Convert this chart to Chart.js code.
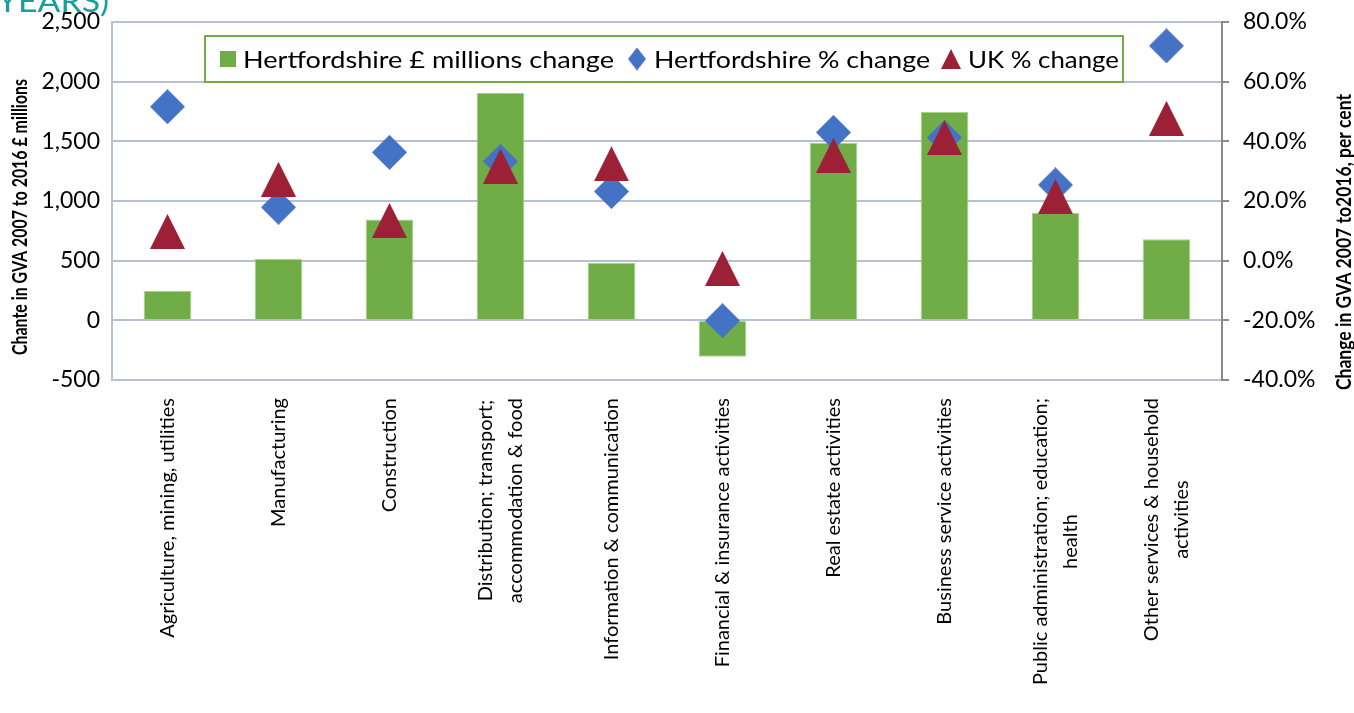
<!DOCTYPE html>
<html lang="en">
<head>
    <meta charset="UTF-8">
    <title>Change in GVA 2007 to 2016</title>
    <script src="https://cdn.jsdelivr.net/npm/chart.js"></script>
    <style>
        body { margin: 0; background: #fff; }
        #gvaChart { display: block; }
    </style>
</head>
<body>

<canvas id="gvaChart" width="1354" height="713"></canvas>

<script>
    // data
    const categories = [
        ['Agriculture, mining, utilities'],
        ['Manufacturing'],
        ['Construction'],
        ['Distribution; transport;', 'accommodation & food'],
        ['Information & communication'],
        ['Financial & insurance activities'],
        ['Real estate activities'],
        ['Business service activities'],
        ['Public administration; education;', 'health'],
        ['Other services & household', 'activities']
    ];
    const hertsMillions = [245, 515, 845, 1905, 480, -305, 1485, 1745, 900, 680];
    const hertsPct = [51.6, 17.9, 36.3, 33.3, 23.2, -20.1, 43.0, 41.3, 25.4, 72.0];
    const ukPct = [9.8, 27.3, 13.5, 31.7, 32.5, -2.6, 35.3, 41.3, 21.5, 47.7];
    const leftTicks = [-500, 0, 500, 1000, 1500, 2000, 2500];
    const rightTicks = [-40, -20, 0, 20, 40, 60, 80];

    const GREEN = '#70ad47';
    const BLUE = '#4472c4';
    const RED = '#9c2136';
    const GRID = '#b6c0d0';
    const FONT = 'Lato, "Open Sans", sans-serif';

    function makeMarker(shape, color, w, h) {
        const c = document.createElement('canvas');
        c.width = w;
        c.height = h;
        const ctx = c.getContext('2d');
        ctx.fillStyle = color;
        ctx.beginPath();
        if (shape === 'diamond') {
            ctx.moveTo(w / 2, 0);
            ctx.lineTo(w, h / 2);
            ctx.lineTo(w / 2, h);
            ctx.lineTo(0, h / 2);
        } else if (shape === 'triangle') {
            ctx.moveTo(w / 2, 0);
            ctx.lineTo(w, h);
            ctx.lineTo(0, h);
        } else {
            ctx.rect(0, 0, w, h);
        }
        ctx.closePath();
        ctx.fill();
        return c;
    }

    // draw text stretched or squeezed to an exact width, left aligned at x
    function fitText(ctx, text, x, y, width) {
        const k = width / ctx.measureText(text).width;
        ctx.save();
        ctx.translate(x, y);
        ctx.scale(k, 1);
        ctx.fillText(text, 0, 0);
        ctx.restore();
    }

    // keep tick label padding from pushing the plot area down
    function fixAxis(width) {
        return scale => {
            scale.width = width;
            scale.paddingTop = 0;
            scale.paddingBottom = 0;
        };
    }

    const extras = {
        id: 'extras',
        afterDatasetsDraw(chart) {
            const ctx = chart.ctx;
            const xs = chart.scales.x;

            // cut-off heading above the chart
            ctx.save();
            ctx.fillStyle = '#17a09a';
            ctx.font = '31px ' + FONT;
            ctx.textBaseline = 'alphabetic';
            ctx.textAlign = 'left';
            fitText(ctx, 'YEARS)', -3, 12, 112);
            ctx.restore();

            // category labels, rotated, lines centred on each other
            ctx.save();
            ctx.fillStyle = '#000';
            ctx.font = '20px ' + FONT;
            ctx.textAlign = 'center';
            ctx.textBaseline = 'middle';
            categories.forEach((lines, i) => {
                const cx = xs.getPixelForValue(i);
                const maxW = Math.max(...lines.map(l => ctx.measureText(l).width));
                const cy = chart.chartArea.bottom + 18 + maxW / 2;
                lines.forEach((line, j) => {
                    const dx = (j - (lines.length - 1) / 2) * 30;
                    ctx.save();
                    ctx.translate(cx + dx, cy);
                    ctx.rotate(-Math.PI / 2);
                    ctx.fillText(line, 0, 0);
                    ctx.restore();
                });
            });
            ctx.restore();

            // axis titles
            ctx.save();
            ctx.fillStyle = '#000';
            ctx.font = 'bold 20px ' + FONT;
            ctx.textBaseline = 'middle';
            ctx.textAlign = 'left';
            ctx.translate(21, 217);
            ctx.rotate(-Math.PI / 2);
            fitText(ctx, 'Chante in GVA 2007 to 2016 £ millions', -138, 0, 276);
            ctx.restore();

            ctx.save();
            ctx.fillStyle = '#000';
            ctx.font = 'bold 20px ' + FONT;
            ctx.textBaseline = 'middle';
            ctx.textAlign = 'left';
            ctx.translate(1345, 242);
            ctx.rotate(-Math.PI / 2);
            fitText(ctx, 'Change in GVA 2007 to2016, per cent', -148, 0, 296);
            ctx.restore();

            // legend box inside the plot
            ctx.save();
            ctx.font = '24px ' + FONT;
            ctx.textBaseline = 'middle';
            ctx.textAlign = 'left';
            const marks = [
                makeMarker('square', GREEN, 16, 16),
                makeMarker('diamond', BLUE, 18, 23),
                makeMarker('triangle', RED, 20, 20)
            ];
            const markX = [220, 628, 941];
            const textX = [243, 654, 968];
            const textW = [371, 276, 151];
            const left = 205, top = 36, right = 1123, bottom = 82, mid = 59;
            ctx.fillStyle = '#fff';
            ctx.fillRect(left, top, right - left, bottom - top);
            ctx.strokeStyle = GREEN;
            ctx.lineWidth = 2;
            ctx.strokeRect(left, top, right - left, bottom - top);
            ctx.fillStyle = '#000';
            chart.data.datasets.forEach((ds, i) => {
                ctx.drawImage(marks[i], markX[i], mid - marks[i].height / 2);
                fitText(ctx, ds.label, textX[i], mid + 1, textW[i]);
            });
            ctx.restore();
        }
    };

    const diamond = makeMarker('diamond', BLUE, 35, 35);
    const triangle = makeMarker('triangle', RED, 35, 35);

    new Chart(document.getElementById('gvaChart'), {
        type: 'bar',
        data: {
            labels: categories,
            datasets: [
                {
                    label: 'Hertfordshire £ millions change',
                    data: hertsMillions,
                    backgroundColor: GREEN,
                    borderColor: '#a9d18e',
                    borderWidth: 1,
                    categoryPercentage: 1,
                    barPercentage: 0.43,
                    yAxisID: 'y',
                    order: 3
                },
                {
                    type: 'line',
                    label: 'Hertfordshire % change',
                    data: hertsPct,
                    showLine: false,
                    pointStyle: diamond,
                    pointRadius: 17,
                    backgroundColor: BLUE,
                    borderColor: BLUE,
                    yAxisID: 'y1',
                    order: 2
                },
                {
                    type: 'line',
                    label: 'UK % change',
                    data: ukPct,
                    showLine: false,
                    pointStyle: triangle,
                    pointRadius: 17,
                    backgroundColor: RED,
                    borderColor: RED,
                    yAxisID: 'y1',
                    order: 1
                }
            ]
        },
        options: {
            responsive: false,
            animation: false,
            layout: { padding: { top: 22, left: 0, right: 0, bottom: 0 } },
            plugins: {
                legend: { display: false },
                tooltip: { enabled: false }
            },
            scales: {
                x: {
                    offset: true,
                    grid: { display: false },
                    border: { display: false },
                    ticks: { display: false },
                    afterFit(scale) { scale.height = 333; }
                },
                y: {
                    position: 'left',
                    min: leftTicks[0],
                    max: leftTicks[leftTicks.length - 1],
                    afterBuildTicks(scale) {
                        scale.ticks = leftTicks.map(v => ({ value: v }));
                    },
                    ticks: {
                        color: '#000',
                        font: { family: FONT, size: 23 },
                        padding: 12,
                        callback: v => v.toLocaleString('en-GB')
                    },
                    grid: { color: GRID, lineWidth: 2, drawTicks: false },
                    border: { color: GRID, width: 2 },
                    afterFit: fixAxis(112)
                },
                y1: {
                    position: 'right',
                    min: rightTicks[0],
                    max: rightTicks[rightTicks.length - 1],
                    afterBuildTicks(scale) {
                        scale.ticks = rightTicks.map(v => ({ value: v }));
                    },
                    ticks: {
                        color: '#000',
                        font: { family: FONT, size: 23 },
                        padding: 14,
                        callback: v => v.toFixed(1) + '%'
                    },
                    grid: { drawOnChartArea: false, color: '#8a8a8a', tickLength: 7, lineWidth: 2 },
                    border: { color: '#8a8a8a', width: 2 },
                    afterFit: fixAxis(132)
                }
            }
        },
        plugins: [extras]
    });
</script>

</body>
</html>
